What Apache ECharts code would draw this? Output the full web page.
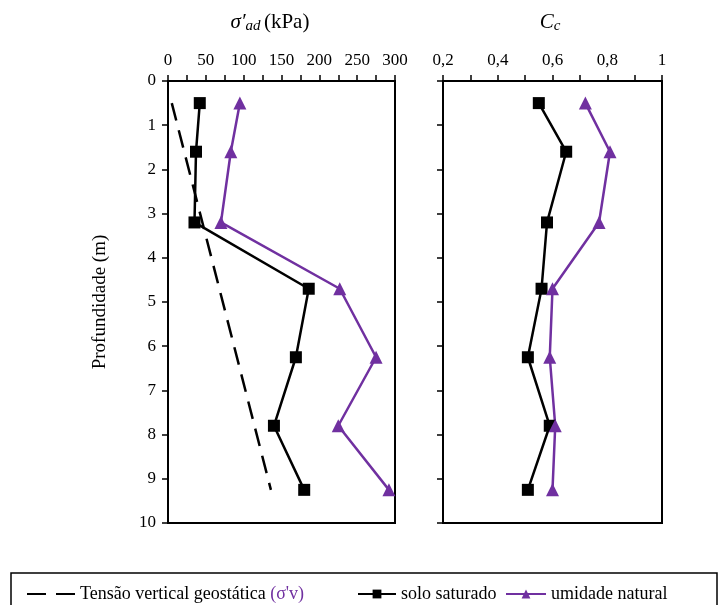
<!DOCTYPE html>
<html>
<head>
<meta charset="utf-8">
<script src="https://cdn.jsdelivr.net/npm/echarts@6/dist/echarts.min.js"></script>
<style>
  html, body { margin: 0; padding: 0; background: #fff; }
  #chart { width: 720px; height: 605px; }
</style>
</head>
<body>
<div id="chart"></div>
<script>
// profundidade (m) of each sample
var depth = [0.5, 1.6, 3.2, 4.7, 6.25, 7.8, 9.25];
// sigma'ad (kPa)
var saturadoKPa = [42, 37, 35, 186, 169, 140, 180];
var naturalKPa = [95, 83, 70, 227, 275, 225, 292];
// geostatic vertical stress line
var geoDepth = [0.5, 9.25];
var geoKPa = [5, 136];
// Cc
var saturadoCc = [0.55, 0.65, 0.58, 0.56, 0.51, 0.59, 0.51];
var naturalCc = [0.72, 0.81, 0.77, 0.60, 0.59, 0.61, 0.60];

var depthTicks = [0, 1, 2, 3, 4, 5, 6, 7, 8, 9, 10];

var NAME_GEO = 'Tensão vertical geostática (σ\'v)';
var NAME_SAT = 'solo saturado';
var NAME_NAT = 'umidade natural';
var PURPLE = '#7030a0';
var FONT = 'Liberation Serif';

function pairs(xs, ys) {
    return xs.map(function (x, i) { return [x, ys[i]]; });
}

var chart = echarts.init(document.getElementById('chart'));

function xAx(idx, min, max, interval, fmt) {
    return {
        type: 'value', gridIndex: idx, position: 'top',
        min: min, max: max, interval: interval,
        axisLine: { show: true, lineStyle: { color: '#000', width: 2 } },
        axisTick: { show: true, length: 6, lineStyle: { color: '#000', width: 1.5 } },
        minorTick: { show: true, splitNumber: 2, length: 6, lineStyle: { color: '#000', width: 1.5 } },
        splitLine: { show: false },
        axisLabel: { fontFamily: FONT, fontSize: 17, color: '#000', margin: 12, formatter: fmt }
    };
}

function yAx(idx, showLabel) {
    return {
        type: 'value', gridIndex: idx, inverse: true,
        min: 0, max: 10, interval: 1,
        name: showLabel ? 'Profundidade (m)' : '',
        nameLocation: 'middle', nameGap: 58,
        nameTextStyle: { fontFamily: FONT, fontSize: 19, color: '#000' },
        axisLine: { show: true, lineStyle: { color: '#000', width: 2 } },
        axisTick: { show: true, length: 6, lineStyle: { color: '#000', width: 1.5 } },
        splitLine: { show: false },
        axisLabel: {
            show: showLabel, fontFamily: FONT, fontSize: 17, color: '#000', margin: 12,
            formatter: function (v) { return depthTicks.indexOf(v) >= 0 ? String(v) : ''; }
        }
    };
}

var squareStyle = {
    symbol: 'rect', symbolSize: 12,
    itemStyle: { color: '#000' },
    lineStyle: { color: '#000', width: 2.5 }
};
var triStyle = {
    symbol: 'triangle', symbolSize: 13,
    itemStyle: { color: PURPLE },
    lineStyle: { color: PURPLE, width: 2.5 }
};

function line(name, data, xi, yi, st) {
    return Object.assign({
        type: 'line', name: name, data: data,
        xAxisIndex: xi, yAxisIndex: yi, clip: false, z: 3
    }, st);
}

var legendText = {
    fontFamily: FONT, fontSize: 18, color: '#000',
    rich: { p: { fontFamily: FONT, fontSize: 18, color: PURPLE } }
};

chart.setOption({
    animation: false,
    backgroundColor: '#fff',
    grid: [
        { left: 168, top: 81, width: 227, height: 442, show: true, borderColor: '#000', borderWidth: 2 },
        { left: 443, top: 81, width: 219, height: 442, show: true, borderColor: '#000', borderWidth: 2 }
    ],
    xAxis: [
        xAx(0, 0, 300, 50),
        xAx(1, 0.2, 1, 0.2, function (v) {
            return String(Math.round(v * 10) / 10).replace('.', ',');
        })
    ],
    yAxis: [yAx(0, true), yAx(1, false)],
    legend: [
        {
            left: 22, top: 580, itemWidth: 48, itemHeight: 3, itemGap: 6,
            selectedMode: false, textStyle: legendText,
            data: [{ name: NAME_GEO, icon: 'path://M0,0h19v2h-19z M29,0h19v2h-19z' }],
            formatter: function () { return 'Tensão vertical geostática {p|(σ\'v)}'; }
        },
        {
            left: 352, top: 580, itemWidth: 38, itemHeight: 11, itemGap: 4,
            selectedMode: false, textStyle: legendText, data: [NAME_SAT]
        },
        {
            left: 500, top: 580, itemWidth: 40, itemHeight: 11, itemGap: 4,
            selectedMode: false, textStyle: legendText, data: [NAME_NAT]
        }
    ],
    graphic: [
        {
            type: 'rect', shape: { x: 11, y: 573, width: 706, height: 40 },
            style: { fill: 'none', stroke: '#000', lineWidth: 1.5 }
        },
        {
            type: 'text', x: 270, y: 22,
            style: {
                text: '{s|σ′}{b|ad} {n|(kPa)}', align: 'center', verticalAlign: 'middle',
                rich: {
                    s: { fontFamily: FONT, fontSize: 21, fontStyle: 'italic', fill: '#000' },
                    b: { fontFamily: FONT, fontSize: 15, fontStyle: 'italic', fill: '#000', padding: [9, 0, 0, 0] },
                    n: { fontFamily: FONT, fontSize: 21, fill: '#000' }
                }
            }
        },
        {
            type: 'text', x: 550, y: 22,
            style: {
                text: '{s|C}{b|c}', align: 'center', verticalAlign: 'middle',
                rich: {
                    s: { fontFamily: FONT, fontSize: 21, fontStyle: 'italic', fill: '#000' },
                    b: { fontFamily: FONT, fontSize: 15, fontStyle: 'italic', fill: '#000', padding: [9, 0, 0, 0] }
                }
            }
        }
    ],
    series: [
        {
            type: 'line', name: NAME_GEO, data: pairs(geoKPa, geoDepth),
            xAxisIndex: 0, yAxisIndex: 0, symbol: 'none', clip: false, z: 2,
            itemStyle: { color: '#000' },
            lineStyle: { color: '#000', width: 2.5, type: [18, 10] }
        },
        line(NAME_SAT, pairs(saturadoKPa, depth), 0, 0, squareStyle),
        line(NAME_NAT, pairs(naturalKPa, depth), 0, 0, triStyle),
        line(NAME_SAT, pairs(saturadoCc, depth), 1, 1, squareStyle),
        line(NAME_NAT, pairs(naturalCc, depth), 1, 1, triStyle)
    ]
});

window.addEventListener('resize', function () {
    chart.resize();
});
</script>
</body>
</html>
